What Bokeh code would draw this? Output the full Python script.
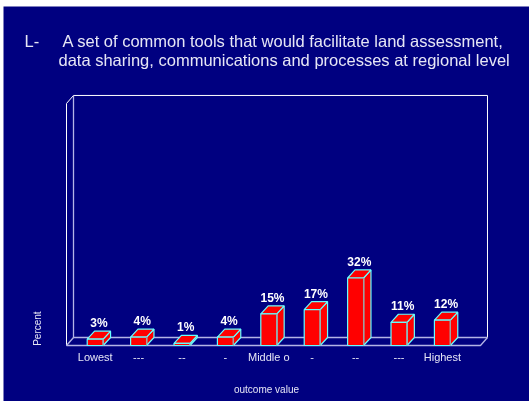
from bokeh.plotting import figure
from bokeh.models import Range1d, FixedTicker
from bokeh.core.properties import value
from bokeh.embed import file_html
from bokeh.resources import INLINE

categories = ["Lowest", "---", "--", "-", "Middle o", "-", "--", "---", "Highest"]
percents = [3, 4, 1, 4, 15, 17, 32, 11, 12]
title_lines = ["A set of common tools that would facilitate land assessment,",
               "data sharing, communications and processes at regional level"]

NAVY = "#000080"
FONT = "Liberation Sans"
TXT = "#e6e6f5"
CYAN = "#66ffff"
WALL = "#b4b4e6"

DX, DY = 0.17, 3.8
HALF = 0.184
WX0, WX1, WY1 = -0.661, 8.878, 114.7
WDX, WDY = 0.161, 3.8

W, H = 529, 401
PXX, PXY = 43.4, 2.11
X0, X1 = (3 - 94.7) / PXX, (W - 94.7) / PXX
Y1, Y0 = (345 - 6) / PXY, (345 - H) / PXY

p = figure(width=W, height=H, output_backend="svg", toolbar_location=None,
           x_range=Range1d(X0, X1), y_range=Range1d(Y0, Y1),
           min_border_left=3, min_border_right=0, min_border_top=6, min_border_bottom=0,
           background_fill_color=NAVY, border_fill_color="#ffffff",
           outline_line_color=None,
           styles={"position": "fixed", "left": "0px", "top": "0px"})
p.grid.visible = False
p.yaxis.visible = False

ax = p.xaxis[0]
ax.fixed_location = 0
ax.ticker = FixedTicker(ticks=list(range(len(categories))))
ax.major_label_overrides = {i: c for i, c in enumerate(categories)}
ax.axis_line_color = None
ax.major_tick_line_color = None
ax.minor_tick_line_color = None
ax.major_label_text_color = TXT
ax.major_label_text_font = FONT
ax.major_label_text_font_size = "11px"
ax.major_label_standoff = -1
ax.axis_label = "outcome value"
ax.axis_label_text_color = TXT
ax.axis_label_text_font = FONT
ax.axis_label_text_font_size = "10px"
ax.axis_label_text_font_style = "normal"
ax.axis_label_standoff = 18

p.multi_line([[WX0 + WDX, WX1 + WDX, WX1 + WDX], [WX0, WX0, WX0 + WDX]],
             [[WY1 + WDY, WY1 + WDY, WDY], [0, WY1, WY1 + WDY]],
             line_color="#ffffff", line_width=1)
p.multi_line([[WX0 + WDX, WX0 + WDX, WX1 + WDX], [WX0, WX0 + WDX], [WX0, WX1, WX1 + WDX]],
             [[WY1 + WDY, WDY, WDY], [0, WDY], [0, 0, WDY]],
             line_color=WALL, line_width=1.3)

xs = list(range(len(percents)))
left = [x - HALF for x in xs]
right = [x + HALF for x in xs]
p.patches([[r, r + DX, r + DX, r] for r in right],
          [[0, DY, v + DY, v] for v in percents],
          fill_color="#ff0000", line_color=CYAN, line_width=1.2)
p.patches([[l, r, r + DX, l + DX] for l, r in zip(left, right)],
          [[v, v, v + DY, v + DY] for v in percents],
          fill_color="#ff0000", line_color=CYAN, line_width=1.2)
p.patches([[l, r, r, l] for l, r in zip(left, right)],
          [[0, 0, v, v] for v in percents],
          fill_color="#ff0000", line_color=CYAN, line_width=1.2)
p.multi_line([[r, r] for r in right], [[0, v] for v in percents],
             line_color="#a0a0a0", line_width=1.2)

p.text([x + DX / 2 for x in xs], [v + DY for v in percents],
       text=[f"{v}%" for v in percents], text_color="#ffffff",
       text_font=value(FONT), text_font_size="12px", text_font_style="bold",
       text_align="center", text_baseline="bottom", y_offset=-1)

def lab(x, y, t, size, **kw):
    p.text([x], [y], text=[t], text_color=TXT, text_font=value(FONT),
           text_font_size=size, text_baseline="middle", **kw)

lab(-1.629, 144.5, "L-", "16.5px")
lab(-0.753, 144.5, title_lines[0], "16.5px")
lab(-0.846, 135.5, title_lines[1], "16.5px")
lab(-1.329, 8, "Percent", "10px", text_align="center", angle=1.5708)

open("out.html", "w").write(file_html(p, INLINE))
